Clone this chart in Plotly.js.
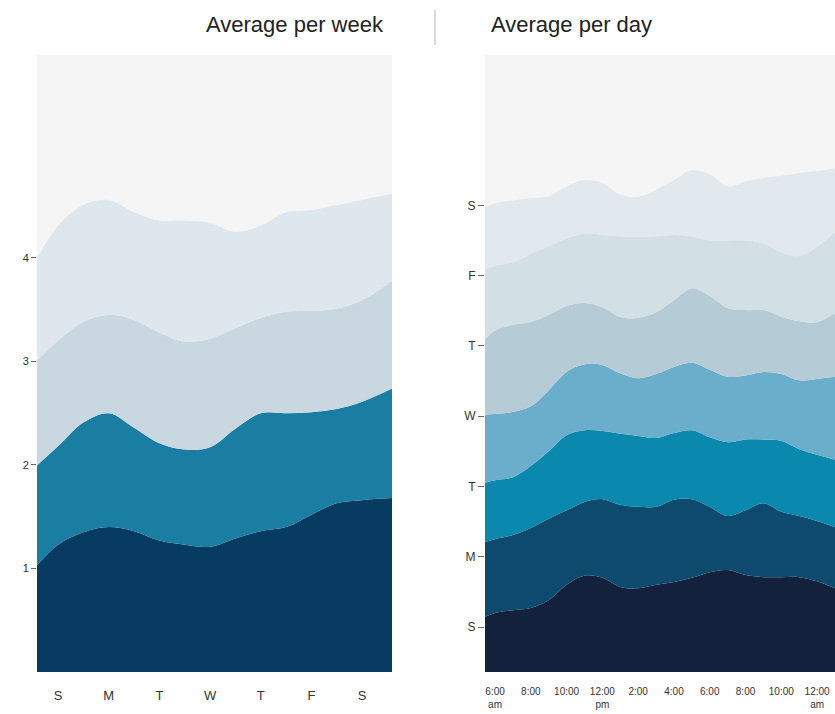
<!DOCTYPE html>
<html>
<head>
<meta charset="utf-8">
<script src="https://cdn.plot.ly/plotly-3.0.1.min.js"></script>
<style>
  html, body { margin: 0; padding: 0; background: #ffffff; }
  #chart { width: 835px; height: 714px; }
</style>
</head>
<body>
<div id="chart"></div>
<script>
// ---------- Left panel: average per week ----------
const weekX = [-0.45, 0, 0.5, 1, 1.5, 2, 2.5, 3, 3.5, 4, 4.5, 5, 5.5, 6, 6.6];
const weekTickVals = [0, 1, 2, 3, 4, 5, 6];
const weekTickText = ["S", "M", "T", "W", "T", "F", "S"];
const weekL1 = [1.01, 1.23, 1.35, 1.40, 1.36, 1.27, 1.23, 1.21, 1.29, 1.36, 1.40, 1.52, 1.63, 1.66, 1.68];
const weekL2 = [0.97, 0.95, 1.06, 1.10, 1.00, 0.94, 0.92, 0.96, 1.06, 1.14, 1.10, 0.99, 0.91, 0.95, 1.06];
const weekL3 = [1.01, 1.02, 0.97, 0.95, 1.04, 1.07, 1.04, 1.05, 0.97, 0.92, 0.98, 0.98, 0.97, 0.98, 1.04];
const weekL4 = [0.97, 1.11, 1.13, 1.11, 1.04, 1.08, 1.17, 1.12, 0.93, 0.89, 0.96, 0.97, 1.00, 0.97, 0.84];
const weekYTicks = [1, 2, 3, 4];

// ---------- Right panel: average per day ----------
const dayX = [5.4, 6, 7, 8, 9, 10, 11, 12, 13, 14, 15, 16, 17, 18, 19, 20, 21, 22, 23, 24, 25];
const dayTickVals = [6, 8, 10, 12, 14, 16, 18, 20, 22, 24];
const dayTickText = ["6:00<br>am", "8:00", "10:00", "12:00<br>pm", "2:00", "4:00", "6:00", "8:00", "10:00", "12:00<br>am"];
const dayYTickVals = [1, 2, 3, 4, 5, 6, 7];
const dayYTickText = ["S", "M", "T", "W", "T", "F", "S"];
const dayL1 = [1.14, 1.20, 1.24, 1.27, 1.38, 1.60, 1.73, 1.70, 1.57, 1.55, 1.60, 1.64, 1.70, 1.78, 1.81, 1.74, 1.71, 1.71, 1.71, 1.65, 1.55];
const dayL2 = [1.07, 1.05, 1.07, 1.14, 1.16, 1.06, 1.05, 1.12, 1.17, 1.16, 1.11, 1.17, 1.12, 0.93, 0.77, 0.92, 1.05, 0.93, 0.87, 0.86, 0.87];
const dayL3 = [0.84, 0.84, 0.82, 0.88, 0.96, 1.07, 1.02, 0.97, 1.01, 1.01, 0.98, 0.95, 0.98, 0.99, 1.05, 1.01, 0.91, 1.01, 0.95, 0.94, 0.96];
const dayL4 = [0.97, 0.94, 0.93, 0.85, 0.87, 0.90, 0.94, 0.94, 0.86, 0.82, 0.91, 0.94, 0.96, 0.96, 0.93, 0.91, 0.96, 0.95, 0.98, 1.08, 1.18];
const dayL5 = [1.06, 1.19, 1.24, 1.20, 1.07, 0.94, 0.87, 0.82, 0.80, 0.86, 0.88, 0.95, 1.06, 1.05, 0.98, 0.93, 0.88, 0.82, 0.84, 0.81, 0.91];
const dayL6 = [1.00, 0.92, 0.89, 0.97, 0.98, 0.96, 0.99, 1.03, 1.15, 1.15, 1.08, 0.93, 0.74, 0.79, 0.96, 0.99, 0.95, 0.91, 0.93, 1.07, 1.15];
const dayL7 = [0.89, 0.89, 0.88, 0.79, 0.71, 0.74, 0.76, 0.74, 0.59, 0.57, 0.66, 0.78, 0.94, 0.94, 0.77, 0.84, 0.93, 1.09, 1.18, 1.08, 0.91];

const weekColors = ["#073b61", "#1a7ea2", "#c9d8e0", "#dfe7ee"];
const dayColors = ["#14213d", "#0d4a6e", "#0b88ae", "#6aaecb", "#b5ccd6", "#d2dfe5", "#e1e8ee"];

function layer(x, y, color, xa, ya, group) {
  return {
    type: "scatter", mode: "lines", x: x, y: y,
    stackgroup: group, xaxis: xa, yaxis: ya,
    line: { width: 0, shape: "spline", smoothing: 1, color: color },
    fillcolor: color, hoverinfo: "skip", showlegend: false
  };
}

const traces = [];
[weekL1, weekL2, weekL3, weekL4].forEach((d, i) => traces.push(layer(weekX, d, weekColors[i], "x", "y", "week")));
[dayL1, dayL2, dayL3, dayL4, dayL5, dayL6, dayL7].forEach((d, i) => traces.push(layer(dayX, d, dayColors[i], "x2", "y2", "day")));

const tickFont = { family: "Liberation Sans, Arial, sans-serif", size: 12, color: "#333333" };

const layout = {
  width: 835, height: 714,
  margin: { l: 0, r: 0, t: 0, b: 0 },
  paper_bgcolor: "#ffffff",
  plot_bgcolor: "#f5f5f5",
  showlegend: false,
  xaxis: {
    domain: [37 / 835, 392 / 835], anchor: "y",
    range: [-0.414, 6.59], tickvals: weekTickVals, ticktext: weekTickText,
    showgrid: false, zeroline: false, showline: false, ticks: "",
    ticklabelstandoff: 14,
    tickfont: { family: "Liberation Sans, Arial, sans-serif", size: 13, color: "#333333" }
  },
  yaxis: {
    domain: [1 - 672 / 714, 1 - 55 / 714], anchor: "x",
    range: [0, 5.96], tickvals: weekYTicks,
    showgrid: false, zeroline: false, showline: false,
    ticks: "outside", ticklen: 5, tickcolor: "#666666", tickwidth: 1,
    tickfont: { family: "Liberation Sans, Arial, sans-serif", size: 11, color: "#333333" }
  },
  xaxis2: {
    domain: [485 / 835, 1], anchor: "y2",
    range: [5.44, 25.0], tickvals: dayTickVals, ticktext: dayTickText,
    showgrid: false, zeroline: false, showline: false, ticks: "",
    ticklabelstandoff: 12,
    tickfont: { family: "Liberation Sans, Arial, sans-serif", size: 10, color: "#333333" }
  },
  yaxis2: {
    domain: [1 - 672 / 714, 1 - 55 / 714], anchor: "x2",
    range: [0.36, 9.14], tickvals: dayYTickVals, ticktext: dayYTickText,
    showgrid: false, zeroline: false, showline: false,
    ticks: "outside", ticklen: 6, tickcolor: "#666666", tickwidth: 1,
    tickfont: { family: "Liberation Sans, Arial, sans-serif", size: 12, color: "#333333" }
  },
  annotations: [
    { text: "Average per week", xref: "paper", yref: "paper", x: 295 / 835, y: 1 - 25 / 714,
      xanchor: "center", yanchor: "middle", showarrow: false,
      font: { family: "Liberation Sans, Arial, sans-serif", size: 22, color: "#222222" } },
    { text: "Average per day", xref: "paper", yref: "paper", x: 571 / 835, y: 1 - 25 / 714,
      xanchor: "center", yanchor: "middle", showarrow: false,
      font: { family: "Liberation Sans, Arial, sans-serif", size: 22, color: "#222222" } }
  ],
  shapes: [
    { type: "line", xref: "paper", yref: "paper", x0: 435 / 835, x1: 435 / 835,
      y0: 1 - 10 / 714, y1: 1 - 45 / 714, line: { color: "#cccccc", width: 1.5 } }
  ]
};

Plotly.newPlot("chart", traces, layout, { displayModeBar: false, staticPlot: true });
</script>
</body>
</html>
